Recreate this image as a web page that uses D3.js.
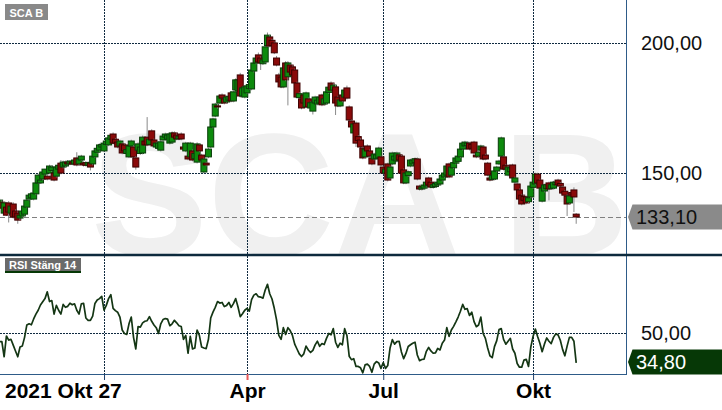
<!DOCTYPE html>
<html><head><meta charset="utf-8">
<script src="https://cdn.jsdelivr.net/npm/d3@7"></script>
<style>body{margin:0;background:#fff}svg{display:block;font-family:"Liberation Sans",Arial,sans-serif}</style>
</head><body><svg id="c" width="722" height="410"></svg>
<script>
const title = "SCA B";
const rsiTitle = "RSI Stäng 14";
const startLabel = "2021 Okt 27";
const monthTickIdx = [46, 109, 169, 235];
const monthTickLabels = ["", "Apr", "Jul", "Okt"];
const priceTicks = [150, 200];
const rsiTicks = [50];
const lastPrice = 133.10;
const lastRsi = 34.80;

const open = [138.1,138.8,134.6,136.9,138.5,134.6,138.1,135.4,134.6,132.7,
133.5,134.2,136.9,140,140.5,140,142,146.2,146.2,147.7,
149.6,148.8,150,151,150,148.8,151.5,153.8,152.3,152.7,
154.2,153.5,154.2,153.5,155.8,153.5,155,153.8,154,153,
153.8,153.5,156.2,158,158.8,160,158.5,161,160.8,163,
165,163,161.9,160.4,161.2,160.8,157.5,156.2,160.4,160,
155.8,158.8,157.5,157.7,162.3,163.8,161,166.2,162.7,160,
159.5,158.8,162.7,163.8,163,161.5,161.9,165.4,164.6,163.1,
165,160,158.5,156.5,156.2,158.5,155.5,154.2,160.8,156.9,
150.4,153.8,156.2,160,167.7,171.9,175.8,176.9,180,178.5,
177.3,178,180.8,177.7,182,181.5,187.7,179.6,179.2,180.8,
182.5,182.3,189.2,192.3,195.4,194.2,192,192.7,199,202.3,
201,200,194.2,187.7,186.9,183.1,192.3,187,191.5,190.8,
189.6,184.6,179,178.5,180,175.4,178.5,175,173.8,176.9,
176.5,176.9,180,176.5,176.9,181,184.6,181.9,183.1,179.2,
175.8,180,179.2,182.7,175.4,170,165.4,169.2,164,162.7,
159.6,156.2,160.4,158.5,155.8,155.4,155.5,155.8,156.2,152.3,
150,153.5,148.1,153.5,155,154.6,157,156.5,151.2,146.2,
149,152.7,153.5,154,155.4,145,143.85,144.2,145,148.1,
146.5,144.5,144.8,145.4,145.8,147.3,148.5,149.2,153.5,149.2,
152,153.8,154.5,156.2,159.2,160.4,160.5,161.5,161,161.9,
156.9,156.5,158.8,160,156.9,153.8,148.1,147.5,147.7,150.8,
153.5,156.5,156.2,153,149.2,150.5,153.1,146.5,145.8,143.5,
141.5,141,140.8,139,140.8,144.5,145.8,149.6,147.3,139.2,
143.1,144,146.2,144,144.2,145.5,147.3,146,144.6,143,
141.2,138.5,142.5,143.5,134.2];

const close = [139.6,136.5,138.5,133.8,135,137.3,133.1,133.1,131.9,133.8,
135.4,137.3,139.6,141.5,142,142.3,146.2,149.2,147.3,150.4,
151.5,147.7,152.7,152.3,147.3,152.3,153,150,154.2,154.2,
153.5,154.6,153.5,155,153.1,155.4,156.5,153.1,153,154,
152.3,156.5,158.5,159.5,160.8,161,161.5,162.3,163.5,164.5,
161.5,161.5,160,162.3,157.7,158.5,159,160.4,162.3,156.2,
152.3,161.2,160,163.8,160.8,160.8,163,162.7,160.4,161.5,
161.5,162,164.2,165,164.6,165,165.4,163.8,163.1,164.2,
163.1,159.2,161.5,155.4,161.5,155,157.5,161.2,158.5,155,
155.4,153.1,159.2,167.7,170.8,176.5,175.4,179.6,178.8,176.9,
179.2,179.5,177.7,181.2,185.8,185.8,179.6,182.7,183.1,183.5,
184,189.6,192.3,194.2,192.7,192.3,193.5,198.5,203,198.8,
199,196.2,191.5,185,183.1,190.4,185.8,192.3,188.8,187.7,
184.6,179.2,180.5,175,176.9,180.8,175.4,177,177.3,179.2,
178,179.2,176.2,178.5,181.2,183,181.9,183.8,176.9,175.8,
178.1,177.7,181.9,178.8,170.4,167.7,168.85,161.5,162.5,160,
155.8,159.2,158.5,156.5,153.5,157.3,157,159.6,153.1,150,
151.5,147.3,152.3,157.7,156.5,157.7,155,150,146.2,150,
150.5,155,155,155.5,147.7,143.85,144.6,145.4,146.5,145.4,
144.6,145.5,146,146.5,147.7,149.2,150,152.7,148.5,152.3,
154,155.8,156.5,159.2,161.5,161.9,161.5,159.2,159.5,157.7,
156.2,158,160.4,155.4,155.4,149.2,147.3,149,150.8,152.3,
154.6,163.5,151.5,151.5,152.3,152,148.1,148.1,143.5,140,
138.1,139.5,138.5,140.5,145,146.5,149.6,146.2,144.2,144.2,
145.4,145.5,143.85,145.5,146.5,146.5,145.4,145,142.3,141.5,
138.1,141.2,141.5,140.8,133.1];

const high = [140.2,139.5,139,137.5,139.2,137.8,138.8,136,135.2,134.5,
136,138,140,142,142.5,143,146.8,149.8,147.8,151,
151.6,149.5,153.2,153,150.6,153,153.5,155,154.8,154.8,
155,155,155,155.5,158,156,157,154.5,154.6,154.5,
154.5,157,159,160,161.3,161.5,162,162.8,164,165,
165.6,163.5,162.5,162.8,161.8,161.3,159.6,161,162.8,160.6,
156.4,161.8,160.6,164.4,162.8,171.5,163.5,166.8,163.2,162,
162,162.6,164.7,165.5,165,165.6,166,166,165.2,164.7,
165.6,160.6,162,157,162,159,158,161.8,161.3,157.4,
155.9,154.3,159.7,168.2,171.3,177,176.5,180.2,180.6,179,
179.7,180,181.4,181.8,186.4,186.3,188.5,183.2,183.6,184,
184.5,190.1,192.8,195,196.3,194.8,194,199,204,203,
201.5,200.5,195,188.5,187.5,192,193,193,192,191.3,
190.1,185.1,181,179,180.5,181.3,179,177.5,177.8,179.7,
178.5,179.7,180.5,179,181.7,183.5,185.2,184.5,184,179.7,
178.6,180.5,182.4,183.6,176,170.5,169.4,169.8,164.5,163.3,
160.1,159.7,161,159,156.3,157.8,157.5,160.1,156.7,152.8,
152,154,152.8,158.2,157,158.2,157.5,157,151.7,150.5,
151,155.5,155.5,156,156,145.5,145.1,145.9,147,148.6,
147,146,146.5,147,148.2,149.7,150.5,153.2,154,152.8,
154.5,156.3,157,159.7,162,162.4,162,162,161.5,162.4,
157.4,158.5,160.9,160.5,157.4,154.3,148.6,149.5,151.3,152.8,
155.1,164,156.7,153.5,152.8,152.5,153.6,148.6,146.3,144,
142,141.5,141.3,141,145.5,147,150.1,150.1,147.8,144.7,
145.9,146,146.7,146,147,147,147.8,146.5,145.1,143.5,
141.7,141.7,143.5,144.5,134.6];

const low = [137.5,136,134,133.5,131,134,132.5,132.7,130.5,132,
133,133.8,136.5,139.5,140,139.5,141.5,145.8,145.8,147.2,
149,147.2,149.5,150.5,146.8,148.3,151,149.5,151.8,152.3,
153,153,153,153,152.6,153,154.6,152.5,152.5,152.5,
151,153,155.8,157.5,158.3,159.5,158,160.5,160.3,162.5,
161,161,159.5,160,157.2,158,157,155.7,160,155.7,
151.3,158.3,157,157.2,160.3,160.3,160.5,162.2,159.9,159.5,
159,158.3,162.2,163.3,162.5,161,161.4,163.3,162.6,162.6,
162.6,158.7,158,154.9,155.7,154.5,155,153.7,158,154.5,
149.9,152.6,155.7,159.5,167.2,171.4,174.8,176.4,178.3,176.4,
176.8,177.5,177.2,177.2,181.5,181,179,179.1,178.7,180.3,
182,181.8,188.7,191.8,192.2,189.6,191.5,192.2,198.5,198.3,
198.5,195.7,191,184.5,182.6,182.6,185.3,176,188.3,187.2,
184.1,178.7,178.5,174.5,176.4,174.9,174.9,174.5,172.5,176.4,
176,176.4,175.7,176,176.4,180.5,181.4,181.4,172.3,175.3,
175.3,177.2,178.7,178.3,169.9,167.2,164.9,160,162,159.5,
155.3,155.7,158,156,153,154.9,155,155.3,152.6,149.5,
149.5,146.8,147.6,153,154.5,154.1,154.5,149.5,145.7,145.7,
148.5,152.2,153,153.5,147.2,143.3,143.3,143.7,144.5,144.9,
144.1,144,144.3,145,145.3,146.8,148,148.7,148,148.7,
151.5,153.3,154,155.7,158.7,159.9,160,158.7,159,157.2,
155.7,156,158.3,154.9,154.9,148.7,146.8,147,147.2,150.3,
153,156,151,151,148.7,150,147.6,146,143,139.5,
137.6,139,138,138.5,140.3,144,145.3,145.7,143.7,138.7,
142.6,143.5,139.5,143.5,143.7,145,144.9,144.5,141.8,141,
133.5,138,141,135,130.5];

const rsi = [45.8,45.8,38,48.7,46.6,47,44,41,38,43,
43.5,48,54.4,55,54.5,57.5,60,62,64.7,66.4,
68,71.5,66.5,67,60,64.5,62,60,65,63.5,
64,65.6,64.8,65.3,62,60,65.3,65.6,58,56.8,
56.8,59,65.5,67.3,68,69.2,62,64.5,68,70,
63,61.8,61,58.5,51.8,50,49.5,55,58.5,48,
42,53.5,53.3,55.5,56.3,56.6,58.7,56.3,54.4,53,
50,55,57.2,57.7,57.4,54,55,56.8,55.5,54,
53.6,47,49,39.8,48.5,42,42.5,51.8,49,43,
42.5,42.2,47,58,61,63.5,66.5,65.7,66,63.9,
64.5,66,63.5,65.4,68,63.8,58.7,60.2,62,63,
61.5,67.5,69.8,70.5,69,68.8,68.2,72.4,75.4,70.5,
67.8,63,57,49,47,53,49.5,53,51.5,49,
44.5,42,39.5,38.1,39.5,43.5,41.5,40.2,41.3,44.1,
46,43.4,44.8,44.3,47.5,50,49.3,52.5,45.5,42.8,
45,44.2,52.5,49,38.3,36.5,37,33,33,32.3,
29.7,33.8,34.2,33,30,34.2,35.5,34.8,32,35,
32,33.5,42.5,46.8,44.5,45.8,46,40.5,37,39.7,
43.3,44.2,45,45.5,38.9,36,36.6,36.8,40.8,42.8,
41,39.8,40,42.3,41.5,45,46.6,53,48.5,51.8,
53.7,56,58.5,61.5,65,62.5,62.8,59.3,61,56.1,
53.5,54.4,58.5,50,47.5,42.5,38.5,37.5,43.2,46.3,
52,52.5,47,44.5,46,47.5,42,39.8,34.5,32.6,
32.6,36.3,36.7,33,43,48.5,52.3,48.5,45,40.6,
44.5,47.7,46,44.8,48,49.8,49.3,46.5,41.8,38.5,
43.5,48,48,46,34.8];

const W = 722, H = 410;
const plotRight = 626;
const priceTop = 0, priceBottom = 255;
const rsiTop = 256, rsiBottom = 374;
const fmt = d => d3.format(".2f")(d).replace(".", ",");

const svg = d3.select("#c");
svg.append("rect").attr("width", W).attr("height", H).attr("fill", "#fff");

const n = close.length;
const x = d3.scaleLinear().domain([0, 254]).range([-0.4, 576.2]);
const y = d3.scaleLinear().domain([118.5, 216.5]).range([priceBottom, priceTop]);
const yr = d3.scaleLinear().domain([29.1, 90.5]).range([rsiBottom, rsiTop - 1]);

const defs = svg.append("defs");
defs.append("clipPath").attr("id", "pc").append("rect")
  .attr("x", 0).attr("y", 0).attr("width", plotRight).attr("height", priceBottom - 1);
defs.append("clipPath").attr("id", "rc").append("rect")
  .attr("x", 0).attr("y", rsiTop).attr("width", plotRight).attr("height", rsiBottom - rsiTop);

// price panel
const gp = svg.append("g").attr("clip-path", "url(#pc)");
gp.append("text").text(title)
  .attr("x", 91).attr("y", 255)
  .attr("font-size", 175).attr("font-weight", "bold")
  .attr("fill", "#f0f0f0");

const gridStyle = sel => sel.attr("stroke", "#0f2a40").attr("stroke-width", 1)
  .attr("stroke-dasharray", "2,1").attr("shape-rendering", "crispEdges").attr("fill", "none");

gp.selectAll("line.hg").data(priceTicks).join("line").attr("class", "hg")
  .attr("x1", 0).attr("x2", plotRight)
  .attr("y1", d => Math.round(y(d)) + 0.5).attr("y2", d => Math.round(y(d)) + 0.5)
  .call(gridStyle);
gp.selectAll("line.vg").data(monthTickIdx).join("line").attr("class", "vg")
  .attr("x1", d => Math.round(x(d)) + 0.5).attr("x2", d => Math.round(x(d)) + 0.5)
  .attr("y1", 0).attr("y2", priceBottom)
  .call(gridStyle);

gp.append("line")
  .attr("x1", 0).attr("x2", plotRight)
  .attr("y1", Math.round(y(lastPrice)) + 0.5).attr("y2", Math.round(y(lastPrice)) + 0.5)
  .attr("stroke", "#808080").attr("stroke-width", 1).attr("stroke-dasharray", "5,3");

const idx = d3.range(n);
const candle = gp.selectAll("g.cd").data(idx).join("g").attr("class", "cd");
candle.append("line")
  .attr("x1", i => x(i)).attr("x2", i => x(i))
  .attr("y1", i => y(high[i])).attr("y2", i => y(low[i]))
  .attr("stroke", "#8a8a8a").attr("stroke-width", 1);
candle.append("rect")
  .attr("x", i => x(i) - 3).attr("width", 6)
  .attr("y", i => y(Math.max(open[i], close[i])))
  .attr("height", i => Math.max(1, Math.abs(y(open[i]) - y(close[i]))))
  .attr("fill", i => close[i] >= open[i] ? "#0d8a0d" : "#8a0a0a")
  .attr("stroke", i => close[i] >= open[i] ? "#0a3d0a" : "#3d0000")
  .attr("stroke-width", 1);

// rsi panel
const gr = svg.append("g").attr("clip-path", "url(#rc)");
gr.selectAll("line.rh").data(rsiTicks).join("line").attr("class", "rh")
  .attr("x1", 0).attr("x2", plotRight)
  .attr("y1", d => Math.round(yr(d)) + 0.5).attr("y2", d => Math.round(yr(d)) + 0.5)
  .call(gridStyle);
gr.selectAll("line.rv").data(monthTickIdx).join("line").attr("class", "rv")
  .attr("x1", d => Math.round(x(d)) + 0.5).attr("x2", d => Math.round(x(d)) + 0.5)
  .attr("y1", rsiTop).attr("y2", rsiBottom)
  .call(gridStyle);
gr.append("path").datum(idx)
  .attr("d", d3.line().x(i => x(i)).y(i => yr(rsi[i])))
  .attr("fill", "none").attr("stroke", "#143614").attr("stroke-width", 1.7)
  .attr("stroke-linejoin", "round");

// frames
svg.append("line").attr("x1", plotRight + 0.5).attr("x2", plotRight + 0.5)
  .attr("y1", 0).attr("y2", rsiBottom).attr("stroke", "#2e5b88").attr("stroke-width", 1);
svg.append("line").attr("x1", 0).attr("x2", plotRight + 1)
  .attr("y1", rsiBottom + 0.5).attr("y2", rsiBottom + 0.5).attr("stroke", "#2e5b88").attr("stroke-width", 1);
svg.append("line").attr("x1", 0).attr("x2", W)
  .attr("y1", 255).attr("y2", 255).attr("stroke", "#0d2a3d").attr("stroke-width", 2.5);

// bottom axis
const xAxis = d3.axisBottom(x).tickValues(monthTickIdx)
  .tickFormat((d, k) => monthTickLabels[k]).tickSize(6).tickPadding(3);
const ga = svg.append("g").attr("transform", `translate(0,${rsiBottom})`).call(xAxis);
ga.select(".domain").remove();
ga.selectAll(".tick line").attr("stroke", "#1f3f6b");
ga.selectAll(".tick").filter(d => d === 109).select("line").attr("stroke", "#e85a5a").attr("stroke-width", 2);
ga.selectAll(".tick text").attr("font-family", "Liberation Sans, Arial, sans-serif")
  .attr("font-size", 21).attr("font-weight", "bold").attr("fill", "#000");
svg.append("text").text(startLabel).attr("x", 5).attr("y", 398)
  .attr("font-size", 21).attr("font-weight", "bold").attr("fill", "#000");

// right axes
const yAxis = d3.axisRight(y).tickValues(priceTicks).tickFormat(fmt).tickSize(0).tickPadding(0);
const gy = svg.append("g").attr("transform", "translate(641,0)").call(yAxis);
gy.select(".domain").remove();
gy.selectAll(".tick text").attr("font-family", "Liberation Sans, Arial, sans-serif")
  .attr("font-size", 20).attr("fill", "#111");
const yrAxis = d3.axisRight(yr).tickValues(rsiTicks).tickFormat(fmt).tickSize(0).tickPadding(0);
const gyr = svg.append("g").attr("transform", "translate(641,0)").call(yrAxis);
gyr.select(".domain").remove();
gyr.selectAll(".tick text").attr("font-family", "Liberation Sans, Arial, sans-serif")
  .attr("font-size", 20).attr("fill", "#111");

// value badges
function badge(yc, fill, txt, color) {
  const top = yc - 12.5, bot = yc + 12.5;
  svg.append("path")
    .attr("d", `M628,${yc} L632.5,${top} L${W},${top} L${W},${bot} L632.5,${bot} Z`)
    .attr("fill", fill);
  svg.append("text").text(txt).attr("x", 636).attr("y", yc + 7)
    .attr("font-size", 20).attr("fill", color);
}
badge(y(lastPrice), "#8a8a8a", fmt(lastPrice), "#111");
badge(yr(lastRsi) - 1, "#063806", fmt(lastRsi), "#fff");

// panel titles
svg.append("rect").attr("x", 5).attr("y", 4).attr("width", 43).attr("height", 16).attr("fill", "#898989");
svg.append("text").text(title).attr("x", 9.5).attr("y", 16.5)
  .attr("font-size", 11).attr("font-weight", "bold").attr("fill", "#fff");
svg.append("rect").attr("x", 5).attr("y", 258).attr("width", 76).attr("height", 15).attr("fill", "#6a6a6a");
svg.append("rect").attr("x", 5).attr("y", 271).attr("width", 76).attr("height", 2).attr("fill", "#063806");
svg.append("text").text(rsiTitle).attr("x", 9).attr("y", 269)
  .attr("font-size", 11).attr("font-weight", "bold").attr("fill", "#fff");
</script></body></html>
